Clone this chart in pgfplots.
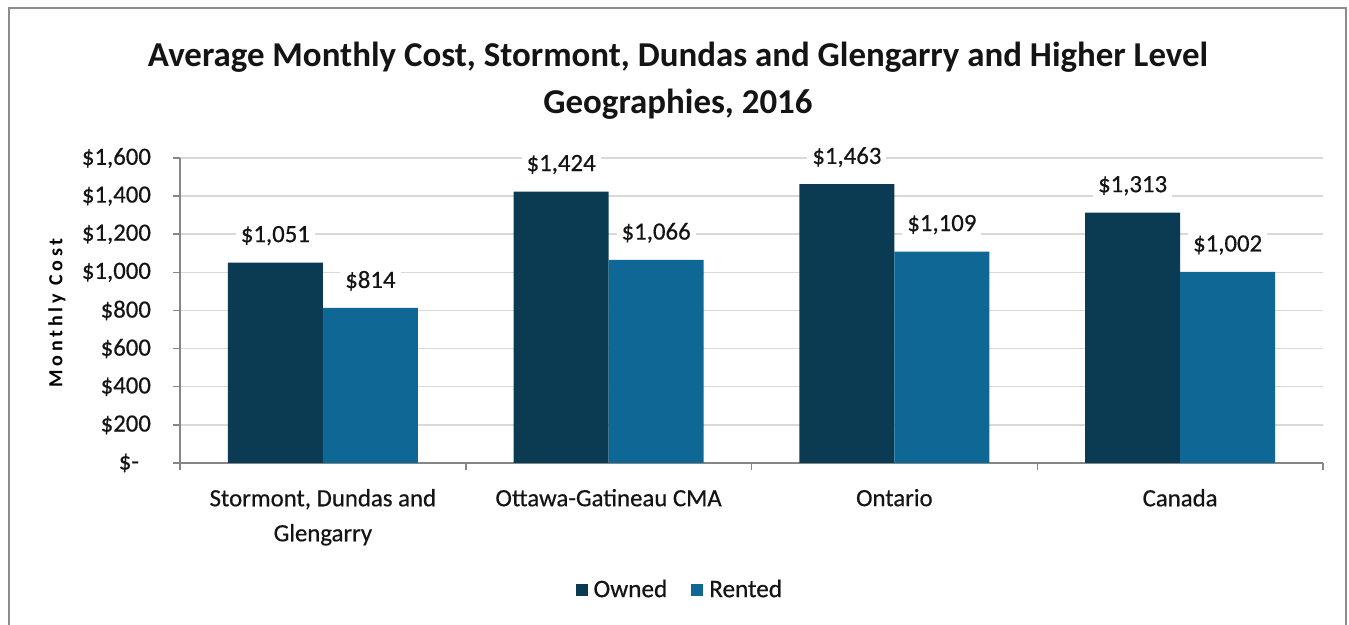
\documentclass[border=0pt]{standalone}
\usepackage{fontspec}
\setmainfont{Carlito}[UprightFeatures={FakeBold=0.5}]
\newfontfamily\ylabfont[LetterSpace=19]{Carlito}
\usepackage{pgfplots}
\pgfplotsset{compat=1.18}
\definecolor{owned}{HTML}{0B3A53}
\definecolor{rented}{HTML}{0E6795}
\definecolor{gridc}{HTML}{D9D9D9}
\definecolor{axisc}{HTML}{868686}
\definecolor{framec}{HTML}{8C8C8C}
\definecolor{txt}{HTML}{141414}
\begin{document}
\begin{tikzpicture}
\useasboundingbox (0,0) rectangle (674.5pt,312.5pt);
\draw[framec, line width=1pt] (4.5pt,-2pt) -- (4.5pt,308.5pt) -- (673pt,308.5pt) -- (673pt,-2pt);
\node[align=center, font={\fontsize{17.45}{23.5}\selectfont\bfseries}, text=txt] at (339pt,272pt)
  {Average Monthly Cost, Stormont, Dundas and Glengarry and Higher Level\\Geographies, 2016};
\node[rotate=90, font={\fontsize{10}{12}\ylabfont\bfseries}, text=black] at (28.5pt,156pt) {Monthly Cost};
\begin{axis}[
  at={(90pt,81pt)}, anchor=south west,
  width=571.5pt, height=152.5pt, scale only axis,
  /pgf/number format/assume math mode=true,
  font={\fontsize{12.4}{17.5}\selectfont},
  ybar=0pt, bar width=0.3325,
  xmin=-0.5, xmax=3.5, ymin=0, ymax=1600,
  axis x line*=bottom, axis y line*=left,
  axis line style={axisc, line width=0.75pt},
  tick align=outside,
  major tick length=3.5pt, minor tick length=3.5pt,
  xtick={0,1,2,3},
  xticklabels={{Stormont, Dundas and\\Glengarry},{Ottawa-Gatineau CMA},{Ontario},{Canada}},
  xticklabel style={align=center, text=txt, yshift=-6pt},
  major x tick style={draw=none},
  minor xtick={-0.5,0.5,1.5,2.5,3.5},
  minor x tick style={draw=axisc, line width=0.75pt},
  ytick={0,200,...,1600},
  yticklabels={{\$-\kern6pt},{\$200},{\$400},{\$600},{\$800},{\$1,000},{\$1,200},{\$1,400},{\$1,600}},
  yticklabel style={text=txt, xshift=-7.5pt},
  major y tick style={draw=axisc, line width=0.75pt},
  ymajorgrids, major grid style={gridc, line width=0.75pt},
  nodes near coords={\$\pgfmathprintnumber[fixed,precision=0,1000 sep={,}]{\pgfplotspointmeta}},
  nodes near coords style={anchor=center, yshift=13.5pt, fill=white, inner sep=2.5pt, text=txt},
  legend style={at={(0.439,-0.416)}, anchor=center, draw=none, legend columns=2,
    font={\fontsize{12.6}{14}\selectfont}, text=txt,
    /tikz/every even column/.append style={column sep=9pt},
    nodes={inner xsep=3pt}},
  legend image code/.code={\fill[#1] (0pt,-3pt) rectangle (6pt,3pt);},
  clip=false,
]
\addplot[fill=owned, draw=none]
  coordinates {(0,1051) (1,1424) (2,1463) (3,1313)};
\addlegendentry{Owned}
\addplot[fill=rented, draw=none]
  coordinates {(0,814) (1,1066) (2,1109) (3,1002)};
\addlegendentry{Rented}
\end{axis}
\end{tikzpicture}
\end{document}
